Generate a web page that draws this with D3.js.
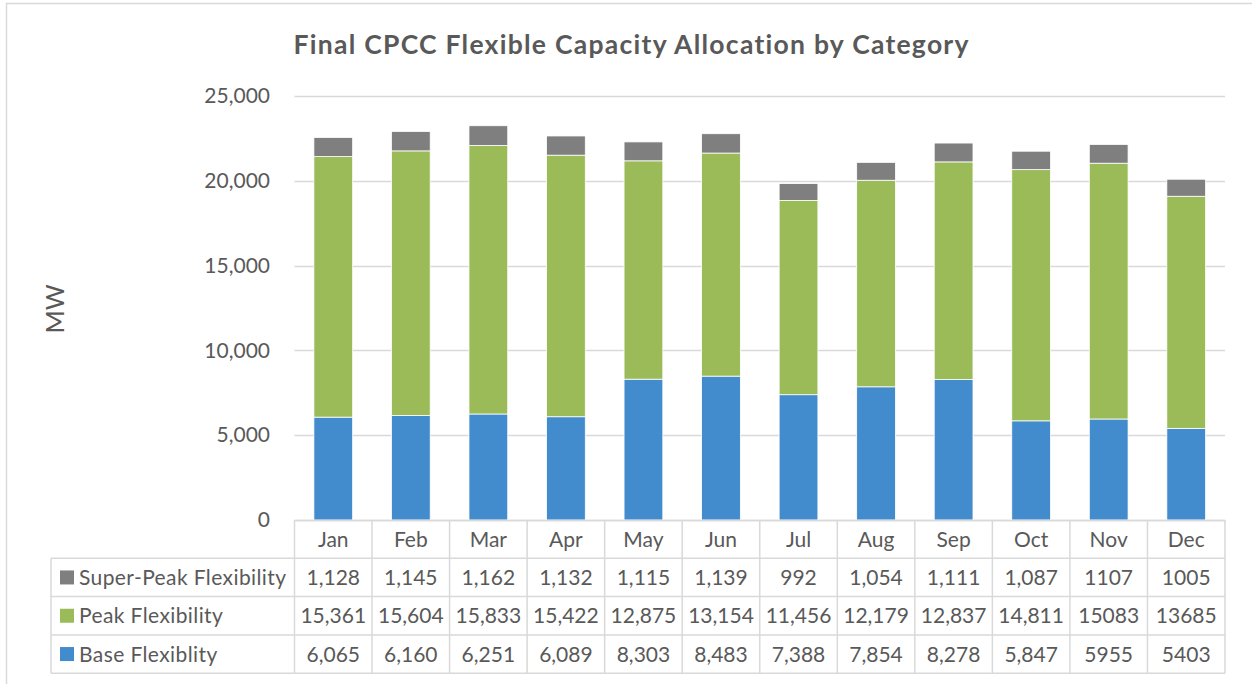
<!DOCTYPE html>
<html>
<head>
<meta charset="utf-8">
<script src="https://cdn.jsdelivr.net/npm/d3@7"></script>
<style>
  body { margin: 0; background: #fff; }
  svg text { font-family: Lato, "Open Sans", sans-serif; fill: #595959; font-variant-ligatures: none; }
</style>
</head>
<body>
<div id="chart"></div>
<script>
// chart data
var months = ["Jan", "Feb", "Mar", "Apr", "May", "Jun", "Jul", "Aug", "Sep", "Oct", "Nov", "Dec"];
var baseFlex = [6065, 6160, 6251, 6089, 8303, 8483, 7388, 7854, 8278, 5847, 5955, 5403];
var peakFlex = [15361, 15604, 15833, 15422, 12875, 13154, 11456, 12179, 12837, 14811, 15083, 13685];
var superPeakFlex = [1128, 1145, 1162, 1132, 1115, 1139, 992, 1054, 1111, 1087, 1107, 1005];
var seriesNames = ["Base Flexiblity", "Peak Flexibility", "Super-Peak Flexibility"];
var seriesColors = ["#428bcd", "#9bbb59", "#7f7f7f"];
var yTicks = [0, 5000, 10000, 15000, 20000, 25000];
var noCommaMonths = ["Nov", "Dec"]; // the source table prints these two without separators

var W = 1252, H = 684;
var margin = {left: 294.5, right: 27, top: 96, bottom: 164};
var plotRight = W - margin.right;
var rowH = 38.3;
var tableLeft = 51;

var svg = d3.select("#chart").append("svg")
  .attr("width", W)
  .attr("height", H);

// outer chart border
svg.append("rect")
  .attr("x", 6.5).attr("y", 3.5)
  .attr("width", W + 20).attr("height", H + 20)
  .attr("fill", "none")
  .attr("stroke", "#d9d9d9")
  .attr("stroke-width", 1.5);

svg.append("text")
  .attr("x", 631).attr("y", 54)
  .attr("text-anchor", "middle")
  .attr("textLength", 675)
  .attr("lengthAdjust", "spacing")
  .style("font-size", "26.5px")
  .style("font-weight", "bold")
  .text("Final CPCC Flexible Capacity Allocation by Category");

var x = d3.scaleBand()
  .domain(months)
  .range([margin.left, plotRight])
  .paddingInner(0.5)
  .paddingOuter(0.25);

var xCol = d3.scaleBand()
  .domain(months)
  .range([margin.left, plotRight]);

var y = d3.scaleLinear()
  .domain([0, 25000])
  .range([H - margin.bottom, margin.top]);

// gridlines
svg.append("g")
  .selectAll("line")
  .data(yTicks)
  .enter().append("line")
  .attr("x1", margin.left).attr("x2", plotRight)
  .attr("y1", function(d) { return Math.round(y(d)) + 0.5; })
  .attr("y2", function(d) { return Math.round(y(d)) + 0.5; })
  .attr("stroke", "#d9d9d9")
  .attr("stroke-width", 1.5);

// y axis labels
var yAxis = svg.append("g")
  .attr("transform", "translate(" + 270 + ",0)")
  .call(d3.axisLeft(y).tickValues(yTicks).tickSize(0).tickPadding(0).tickFormat(d3.format(",")));
yAxis.select(".domain").remove();
yAxis.selectAll("text")
  .style("font-size", "21px")
  .attr("fill", "#595959")
  .style("font-family", "Lato, sans-serif");

svg.append("text")
  .attr("transform", "translate(64,309) rotate(-90)")
  .attr("text-anchor", "middle")
  .style("font-size", "25px")
  .text("MW");

// stacked bars
var rows = months.map(function(m, i) {
  return {month: m, base: baseFlex[i], peak: peakFlex[i], superPeak: superPeakFlex[i]};
});
var stack = d3.stack().keys(["base", "peak", "superPeak"]);
var layers = stack(rows);

svg.append("g")
  .selectAll("g")
  .data(layers)
  .enter().append("g")
  .attr("fill", function(d, i) { return seriesColors[i]; })
  .selectAll("rect")
  .data(function(d) { return d; })
  .enter().append("rect")
  .attr("x", function(d) { return x(d.data.month); })
  .attr("width", x.bandwidth())
  .attr("y", function(d) { return y(d[1]); })
  .attr("height", function(d) { return y(d[0]) - y(d[1]); })
  .attr("stroke", "#fff")
  .attr("stroke-width", 0.8);

// data table
var table = svg.append("g");
var top0 = y(0);
var gridColor = "#d9d9d9";

var tableRows = [
  {name: seriesNames[2], color: seriesColors[2], values: superPeakFlex},
  {name: seriesNames[1], color: seriesColors[1], values: peakFlex},
  {name: seriesNames[0], color: seriesColors[0], values: baseFlex}
];

function rowY(i) { return top0 + rowH * (i + 1); }

// horizontal lines
table.append("line")
  .attr("x1", margin.left).attr("x2", plotRight)
  .attr("y1", top0 + 0.5).attr("y2", top0 + 0.5)
  .attr("stroke", gridColor).attr("stroke-width", 1.5);
[0, 1, 2, 3].forEach(function(i) {
  table.append("line")
    .attr("x1", tableLeft).attr("x2", plotRight)
    .attr("y1", rowY(i)).attr("y2", rowY(i))
    .attr("stroke", gridColor).attr("stroke-width", 1.5);
});

// vertical lines
table.append("line")
  .attr("x1", tableLeft).attr("x2", tableLeft)
  .attr("y1", rowY(0)).attr("y2", rowY(3))
  .attr("stroke", gridColor).attr("stroke-width", 1.5);
months.concat(["end"]).forEach(function(m) {
  var xx = m === "end" ? plotRight : xCol(m);
  table.append("line")
    .attr("x1", xx).attr("x2", xx)
    .attr("y1", top0).attr("y2", rowY(3))
    .attr("stroke", gridColor).attr("stroke-width", 1.5);
});

// month header
table.selectAll(".month")
  .data(months)
  .enter().append("text")
  .attr("class", "month")
  .attr("x", function(d) { return xCol(d) + xCol.bandwidth() / 2; })
  .attr("y", top0 + rowH / 2)
  .attr("dy", "0.36em")
  .attr("text-anchor", "middle")
  .style("font-size", "21px")
  .text(function(d) { return d; });

var fmt = d3.format(",");
tableRows.forEach(function(r, ri) {
  var cy = rowY(ri) + rowH / 2;
  table.append("rect")
    .attr("x", 60).attr("y", cy - 7)
    .attr("width", 14).attr("height", 14)
    .attr("fill", r.color);
  table.append("text")
    .attr("x", 79).attr("y", cy)
    .attr("dy", "0.36em")
    .style("font-size", "21px")
    .style("letter-spacing", "0.4px")
    .text(r.name);
  table.selectAll(".v" + ri)
    .data(r.values)
    .enter().append("text")
    .attr("x", function(d, i) { return xCol(months[i]) + xCol.bandwidth() / 2; })
    .attr("y", cy)
    .attr("dy", "0.36em")
    .attr("text-anchor", "middle")
    .style("font-size", "21px")
    .text(function(d, i) { return noCommaMonths.indexOf(months[i]) >= 0 ? String(d) : fmt(d); });
});
</script>
</body>
</html>
